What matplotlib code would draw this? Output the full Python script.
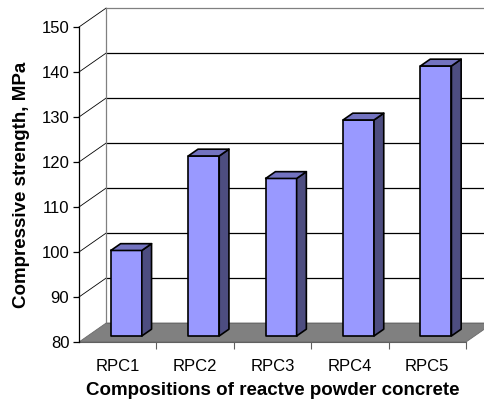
import matplotlib
matplotlib.use("Agg")
import matplotlib.pyplot as plt
from matplotlib.patches import Polygon

plt.rcParams['font.family'] = ['Liberation Sans', 'DejaVu Sans']

categories = ["RPC1", "RPC2", "RPC3", "RPC4", "RPC5"]
strength = [99, 120, 115, 128, 140]
y_ticks = [80, 90, 100, 110, 120, 130, 140, 150]
x_label = "Compositions of reactve powder concrete"
y_label = "Compressive strength, MPa"

# oblique depth offset (full depth of the floor), in data units
DX, DY = 0.349, 4.19
Y0, Y1 = 80, 150
N = len(categories)

FRONT = "#9999FF"
TOP = "#7373C0"
SIDE = "#4D4D80"
FLOOR = "#808080"


def P(x, y, d):
    return (x + d * DX, y + d * DY)


fig = plt.figure(figsize=(4.84, 4.04), dpi=100)
W, H = 484, 404
ax = fig.add_axes([79 / W, (H - 342) / H, (466 - 79) / W, (342 - 27) / H])
ax.set_xlim(0, N)
ax.set_ylim(Y0, Y1)

# back wall gridlines and left wall lines
for v in y_ticks:
    col = "#808080" if v == Y1 else "black"
    ax.plot([P(0, v, 1)[0], P(N + 0.5, v, 1)[0]], [P(0, v, 1)[1]] * 2,
            color=col, lw=0.9, clip_on=False, zorder=1)
    if v != Y0:
        a, b = P(0, v, 0), P(0, v, 1)
        ax.plot([a[0], b[0]], [a[1], b[1]], color="black", lw=0.6,
                clip_on=False, zorder=1)
a, b = P(0, Y0, 1), P(0, Y1, 1)
ax.plot([a[0], b[0]], [a[1], b[1]], color="#808080", lw=0.9, clip_on=False, zorder=1)

# floor
floor = Polygon([P(0, Y0, 0), P(N, Y0, 0), P(N, Y0, 1), P(0, Y0, 1)],
                closed=True, facecolor=FLOOR, edgecolor="#6a6a6a", lw=0.6,
                clip_on=False, zorder=2)
ax.add_patch(floor)

# bars
d0, d1 = 0.32, 0.68
for i, v in enumerate(strength):
    x0, x1 = i + 0.3, i + 0.7
    faces = [
        ([P(x0, Y0, d0), P(x1, Y0, d0), P(x1, v, d0), P(x0, v, d0)], FRONT),
        ([P(x1, Y0, d0), P(x1, Y0, d1), P(x1, v, d1), P(x1, v, d0)], SIDE),
        ([P(x0, v, d0), P(x1, v, d0), P(x1, v, d1), P(x0, v, d1)], TOP),
    ]
    for pts, fc in faces:
        ax.add_patch(Polygon(pts, closed=True, facecolor=fc, edgecolor="black",
                             lw=1.2, joinstyle="round", clip_on=False, zorder=3))

# axes styling
ax.set_facecolor("none")
for s in ("top", "right"):
    ax.spines[s].set_visible(False)
ax.spines["left"].set_color("black")
ax.spines["left"].set_linewidth(0.9)
ax.spines["bottom"].set_color("#606060")
ax.spines["bottom"].set_linewidth(0.8)
ax.spines["left"].set_zorder(4)

ax.set_yticks(y_ticks)
ax.set_yticklabels([str(v) for v in y_ticks], fontsize=12)
ax.tick_params(axis="y", direction="out", length=4, width=0.9, pad=3)

ax.set_xticks(range(1, N + 1))
ax.set_xticklabels([])
ax.set_xticks([i + 0.5 for i in range(N)], minor=True)
ax.set_xticklabels(categories, minor=True, fontsize=12)
ax.tick_params(axis="x", which="major", direction="out", length=5, width=0.8,
               color="#606060")
ax.tick_params(axis="x", which="minor", length=0, pad=12)

ax.set_xlabel(x_label, fontsize=13.5, fontweight="bold", labelpad=6)
ax.set_ylabel(y_label, fontsize=13.5, fontweight="bold", labelpad=8)

fig.savefig("out.png", dpi=100)
